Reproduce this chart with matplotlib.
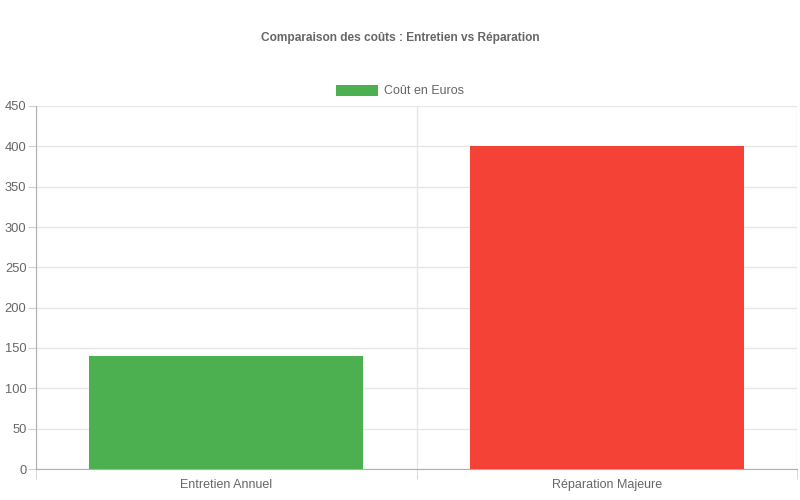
import matplotlib.pyplot as plt
from matplotlib.patches import Patch

# Data
categories = ["Entretien Annuel", "Réparation Majeure"]
costs = [140, 400]
bar_colors = ["#4caf50", "#f44336"]
series_label = "Coût en Euros"
title = "Comparaison des coûts : Entretien vs Réparation"

plt.rcParams["font.family"] = ["Liberation Sans", "DejaVu Sans"]
text_color = "#666666"
grid_color = "#e6e6e6"

fig = plt.figure(figsize=(8, 5), dpi=100)
ax = fig.add_axes([36 / 800, 31 / 500, 761 / 800, 363 / 500])

x = list(range(len(categories)))
ax.bar(x, costs, width=0.72, color=bar_colors, zorder=3)

ax.set_xlim(-0.5, len(categories) - 0.5)
ax.set_ylim(0, 450)
ax.set_yticks(range(0, 451, 50))

# category labels on major ticks, grid/tick marks at boundaries
ax.set_xticks(x)
ax.set_xticklabels(categories)
ax.set_xticks([i - 0.5 for i in range(len(categories) + 1)], minor=True)
ax.tick_params(axis="x", which="major", length=0, pad=7, labelsize=9, labelcolor=text_color)
ax.tick_params(axis="x", which="minor", length=7.2, color="#d0d0d0", direction="out")
ax.tick_params(axis="y", length=5.8, color="#d0d0d0", pad=1, labelsize=9.3, labelcolor=text_color)

ax.grid(True, which="minor", axis="x", color=grid_color, linewidth=1, zorder=0)
ax.grid(True, which="major", axis="y", color=grid_color, linewidth=1, zorder=0)

for side in ["top", "right"]:
    ax.spines[side].set_visible(False)
ax.spines["left"].set_color("#b0b0b0")
ax.spines["bottom"].set_color("#b0b0b0")

fig.text(0.5, 1 - 38.5 / 500, title, ha="center", va="center",
         fontsize=8.6, fontweight="bold", color=text_color)

handle = Patch(facecolor=bar_colors[0], edgecolor="none")
fig.legend([handle], [series_label], loc="center", bbox_to_anchor=(0.5, 1 - 91 / 500),
           frameon=False, fontsize=9, labelcolor=text_color,
           handlelength=3.3, handleheight=1.0, handletextpad=0.5)

fig.savefig("out.png", dpi=100)
